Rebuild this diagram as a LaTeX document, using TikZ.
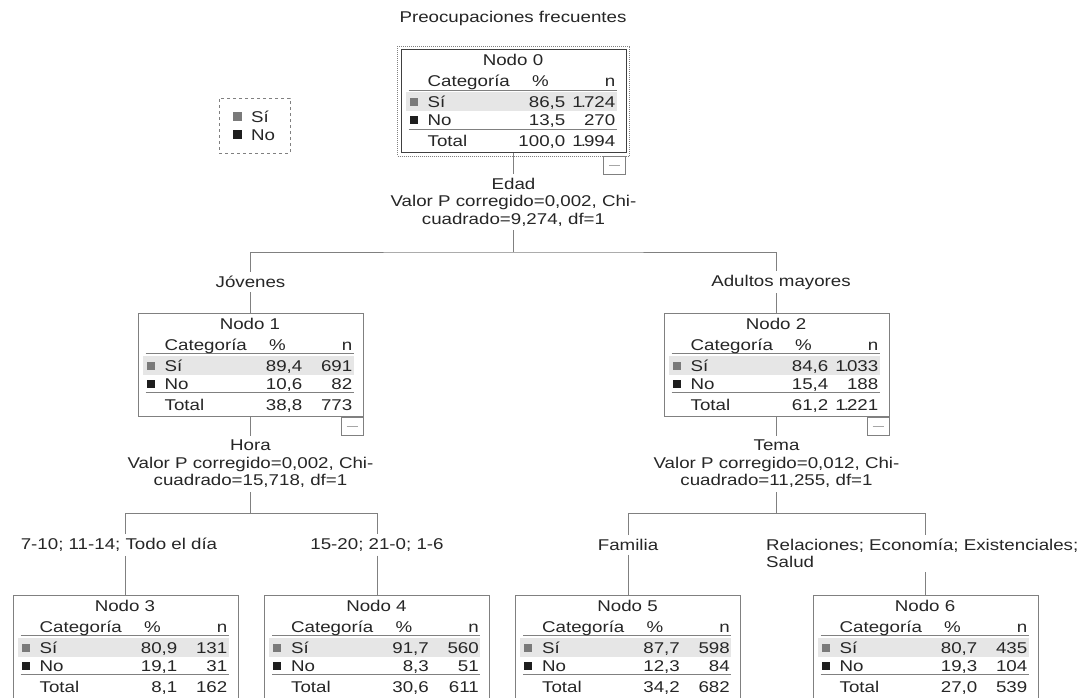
\documentclass[tikz,border=0pt]{standalone}
\usepackage{fontspec}
\setmainfont{Liberation Sans}[FakeStretch=1.2]
\usetikzlibrary{positioning}

\definecolor{txtC}{HTML}{262626}
\definecolor{lineC}{HTML}{808080}
\definecolor{rowC}{HTML}{E6E6E6}
\definecolor{siC}{HTML}{7A7A7A}
\definecolor{noC}{HTML}{1E1E1E}

\tikzstyle{boxS}=[draw=lineC, line width=1pt, minimum width=225pt, minimum height=103pt, inner sep=0pt]
\tikzstyle{eS}=[draw=lineC, line width=1pt]
\tikzstyle{lS}=[inner sep=4pt, text=txtC, align=center]
\tikzstyle{cS}=[inner sep=0pt, text=txtC]
\tikzstyle{mS}=[draw=lineC, line width=1pt, minimum width=22pt, minimum height=18pt, inner sep=0pt]

% thousands with a tight separator
\newcommand{\thou}[2]{#1\kern-2pt.\kern-2pt#2}

% table inside a tree node: name, number, Si %, Si n, No %, No n, Total %, Total n
\newcommand{\nodetab}[8]{%
  \begin{scope}[shift={(#1.north west)}]
    \fill[rowC] (5,43) rectangle (216,62);
    \draw[eS] (8,41) -- (216,41);
    \draw[eS] (8,80) -- (216,80);
    \node[cS,anchor=base] (#1t) at (112.5,16.5) {Nodo #2};
    \node[cS,anchor=base west] (#1h1) at (27,37.5) {Categoría};
    \node[cS,anchor=base] (#1h2) at (140,37.5) {\%};
    \node[cS,anchor=base east] (#1h3) at (215,37.5) {n};
    \fill[siC] (9,49) rectangle (17,57);
    \node[cS,anchor=base west] (#1a1) at (27,58.5) {Sí};
    \node[cS,anchor=base east] (#1a2) at (165,58.5) {#3};
    \node[cS,anchor=base east] (#1a3) at (215,58.5) {#4};
    \fill[noC] (9,67) rectangle (17,75);
    \node[cS,anchor=base west] (#1b1) at (27,76.5) {No};
    \node[cS,anchor=base east] (#1b2) at (165,76.5) {#5};
    \node[cS,anchor=base east] (#1b3) at (215,76.5) {#6};
    \node[cS,anchor=base west] (#1c1) at (27,97.5) {Total};
    \node[cS,anchor=base east] (#1c2) at (165,97.5) {#7};
    \node[cS,anchor=base east] (#1c3) at (215,97.5) {#8};
  \end{scope}}

\begin{document}
\begin{tikzpicture}[x=1pt, y=-1pt, font=\fontsize{15.6}{17.5}\selectfont]
                \useasboundingbox (0,0) rectangle (1081,697);
                \clip (0,0) rectangle (1081,697);
                \fill[white] (0,0) rectangle (1081,697);

                \node[lS] (title) at (513,18) {Preocupaciones frecuentes};

                % legend
                \node[draw=lineC, dashed, line width=1pt, minimum width=71pt, minimum height=55pt] (lg) at (254.5,125.5) {};
                \fill[siC] (233,112) rectangle (242,121);
                \node[cS,anchor=base west] (lgSi) at (251,122.5) {Sí};
                \fill[noC] (233,130) rectangle (242,139);
                \node[cS,anchor=base west] (lgNo) at (251,140.5) {No};

                % tree nodes
                \node[boxS, draw=black!75] (n0) at (513.5,101) {};
                \draw[lineC, densely dotted, line width=1pt] ([shift={(-3pt,3pt)}]n0.north west) rectangle ([shift={(3pt,-3pt)}]n0.south east);
                \node[boxS] (n1) at (250.5,364.5) {};
                \node[boxS] (n2) at (776.5,364.5) {};
                \node[boxS] (n3) at (125.5,646.5) {};
                \node[boxS] (n4) at (377,646.5) {};
                \node[boxS] (n5) at (628,646.5) {};
                \node[boxS] (n6) at (925.5,646.5) {};

                \nodetab{n0}{0}{86,5}{\thou{1}{724}}{13,5}{270}{100,0}{\thou{1}{994}}
                \nodetab{n1}{1}{89,4}{691}{10,6}{82}{38,8}{773}
                \nodetab{n2}{2}{84,6}{\thou{1}{033}}{15,4}{188}{61,2}{\thou{1}{221}}
                \nodetab{n3}{3}{80,9}{131}{19,1}{31}{8,1}{162}
                \nodetab{n4}{4}{91,7}{560}{8,3}{51}{30,6}{611}
                \nodetab{n5}{5}{87,7}{598}{12,3}{84}{34,2}{682}
                \nodetab{n6}{6}{80,7}{435}{19,3}{104}{27,0}{539}

                % collapse boxes
                \node[mS, anchor=north east] (m0) at ([shift={(-0.5pt,-3pt)}]n0.south east) {};
                \node[mS, anchor=north east] (m1) at (n1.south east) {};
                \node[mS, anchor=north east] (m2) at (n2.south east) {};
                \foreach \m in {m0,m1,m2}
                    \draw[lineC!70, line width=1pt] ([xshift=6pt]\m.west) -- ([xshift=-6pt]\m.east);

                % splits
                \node[lS] (s0) at (513.5,202) {Edad\\Valor P corregido=0,002, Chi-\\cuadrado=9,274, df=1};
                \node[lS] (s1) at (250.5,464) {Hora\\Valor P corregido=0,002, Chi-\\cuadrado=15,718, df=1};
                \node[lS] (s2) at (776.5,464) {Tema\\Valor P corregido=0,012, Chi-\\cuadrado=11,255, df=1};
                \coordinate (j0) at (513.5,252);
                \coordinate (j1) at (250.5,513);
                \coordinate (j2) at (776.5,513);

                % branch labels
                \node[lS] (l1) at (250.5,282) {Jóvenes};
                \node[lS] (l2) at (781,282) {Adultos mayores};
                \node[lS] (l3) at (119,545) {7-10; 11-14; Todo el día};
                \node[lS] (l4) at (377,545) {15-20; 21-0; 1-6};
                \node[lS] (l5) at (628,545) {Familia};
                \node[lS, align=left, anchor=west] (l6) at (762,553.5) {Relaciones; Economía; Existenciales;\\Salud};

                % connectors
                \draw[eS] (n0.south) -- (s0.north);
                \draw[eS] (s0.south) -- (j0);
                \draw[eS] (l1.north) |- (j0) -| (n2.north |- l2.north);
                \draw[eS] (l1.south) -- (n1.north);
                \draw[eS] (n2.north |- l2.south) -- (n2.north);
                \draw[eS] (n1.south) -- (s1.north);
                \draw[eS] (s1.south) -- (j1);
                \draw[eS] (n3.north |- l3.north) |- (j1) -| (l4.north);
                \draw[eS] (n3.north |- l3.south) -- (n3.north);
                \draw[eS] (l4.south) -- (n4.north);
                \draw[eS] (n2.south) -- (s2.north);
                \draw[eS] (s2.south) -- (j2);
                \draw[eS] (l5.north) |- (j2) -| (n6.north |- l6.north);
                \draw[eS] (l5.south) -- (n5.north);
                \draw[eS] (n6.north |- l6.south) -- (n6.north);
\end{tikzpicture}
\end{document}
